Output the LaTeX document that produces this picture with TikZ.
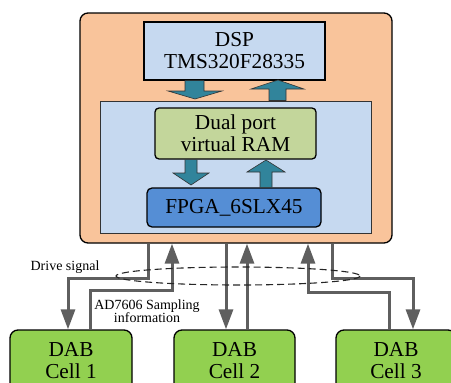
\documentclass[tikz,border=0pt]{standalone}
\usepackage{fontspec}
\setmainfont{Liberation Serif}
\usepackage{tikz}
\usetikzlibrary{arrows.meta}

\definecolor{boardorange}{HTML}{F9C49B}
\definecolor{chipblue}{HTML}{C6D9F0}
\definecolor{ramgreen}{HTML}{C3D69B}
\definecolor{fpgablue}{HTML}{558ED5}
\definecolor{cellgreen}{HTML}{92D050}
\definecolor{busteal}{HTML}{31849B}
\definecolor{sigray}{HTML}{5F5F5F}

\tikzset{
	block/.style={rectangle,draw=black,line width=1.3pt,align=center,
		font=\fontsize{21.3}{22}\selectfont,inner sep=0pt},
	bus/.style={fill=busteal,draw=black!80,line width=0.6pt,line join=miter},
	sig/.style={draw=sigray,line width=3pt},
	sigarrow/.style={sig,-{Triangle[length=20pt,width=14pt]}},
	lbl/.style={align=center,font=\fontsize{14}{13}\selectfont}
}

\begin{document}
\begin{tikzpicture}[x=1pt,y=-1pt]
		\useasboundingbox (0,0) rectangle (451,383);
		\clip (0,0) rectangle (451,383);
%		\draw[help lines,step=10] (0,0) grid (451,383);
		\path (236,128) node(board) [block,rounded corners=8pt,fill=boardorange,
			minimum width=312,minimum height=230] {};
		\path (235.5,167) node(fpgaarea) [block,line width=1pt,draw=black!80,fill=chipblue,
			minimum width=271,minimum height=132] {};
		\path (234.5,51) node(dsp) [block,fill=chipblue,minimum width=181,minimum height=58]
			{DSP\\TMS320F28335};
		\path (235.5,133.5) node(ram) [block,rounded corners=4pt,fill=ramgreen,
			minimum width=161,minimum height=51] {Dual port\\virtual RAM};
		\path (234,207.5) node(fpga) [block,rounded corners=5pt,fill=fpgablue,
			minimum width=174,minimum height=39] {FPGA\_6SLX45};
		\path (71,361) node(cell1) [block,rounded corners=8pt,fill=cellgreen,
			minimum width=122,minimum height=62] {DAB\\Cell 1};
		\path (234.5,361) node(cell2) [block,rounded corners=8pt,fill=cellgreen,
			minimum width=121,minimum height=62] {DAB\\Cell 2};
		\path (396,361) node(cell3) [block,rounded corners=8pt,fill=cellgreen,
			minimum width=120,minimum height=62] {DAB\\Cell 3};

		% bus arrows DSP <-> RAM <-> FPGA
		\draw[bus] (dsp.south -| 185,0) -- (185,91) -- (168,91) -- (195,99)
			-- (222,91) -- (204,91) -- (dsp.south -| 204,0) -- cycle;
		\draw[bus] (fpgaarea.north -| 269,0) -- (269,89) -- (251,89) -- (278,80)
			-- (304,89) -- (286,89) -- (fpgaarea.north -| 286,0) -- cycle;
		\draw[bus] (ram.south -| 185,0) -- (185,173) -- (173,173) -- (191,185)
			-- (209,173) -- (197,173) -- (ram.south -| 197,0) -- cycle;
		\draw[bus] (fpga.north -| 260,0) -- (260,172) -- (247,172) -- (266,160)
			-- (285,172) -- (272,172) -- (fpga.north -| 272,0) -- cycle;

		% signal lines
		\path (148,278) coordinate (drv1_a);
		\path (68,278) coordinate (drv1_b);
		\path (90,290) coordinate (smp1_a);
		\path (172,290) coordinate (smp1_b);
		\path (226,290) coordinate (drv2);
		\path (247,290) coordinate (smp2);
		\path (389,292) coordinate (smp3_a);
		\path (308,292) coordinate (smp3_b);
		\path (332,278) coordinate (drv3_a);
		\path (413,278) coordinate (drv3_b);
		\draw[sigarrow] (drv1_a |- board.south) -- (drv1_a) -- (drv1_b) -- (drv1_b |- cell1.north);
		\draw[sigarrow] (smp1_a |- cell1.north) -- (smp1_a) -- (smp1_b) -- (smp1_b |- board.south);
		\draw[sigarrow] (drv2 |- board.south) -- (drv2 |- cell2.north);
		\draw[sigarrow] (smp2 |- cell2.north) -- (smp2 |- board.south);
		\draw[sigarrow] (smp3_a |- cell3.north) -- (smp3_a) -- (smp3_b) -- (smp3_b |- board.south);
		\draw[sigarrow] (drv3_a |- board.south) -- (drv3_a) -- (drv3_b) -- (drv3_b |- cell3.north);

		\path (238,276) coordinate (bundle);
		\draw[dashed,dash pattern=on 7pt off 4pt,line width=1.1pt,black!85]
			(bundle) ellipse [x radius=122,y radius=9];

		\path (65,267) node(drive) [lbl] {Drive signal};
		\path (147,311) node(sampling) [lbl] {AD7606 Sampling\\information};
	\end{tikzpicture}
\end{document}
